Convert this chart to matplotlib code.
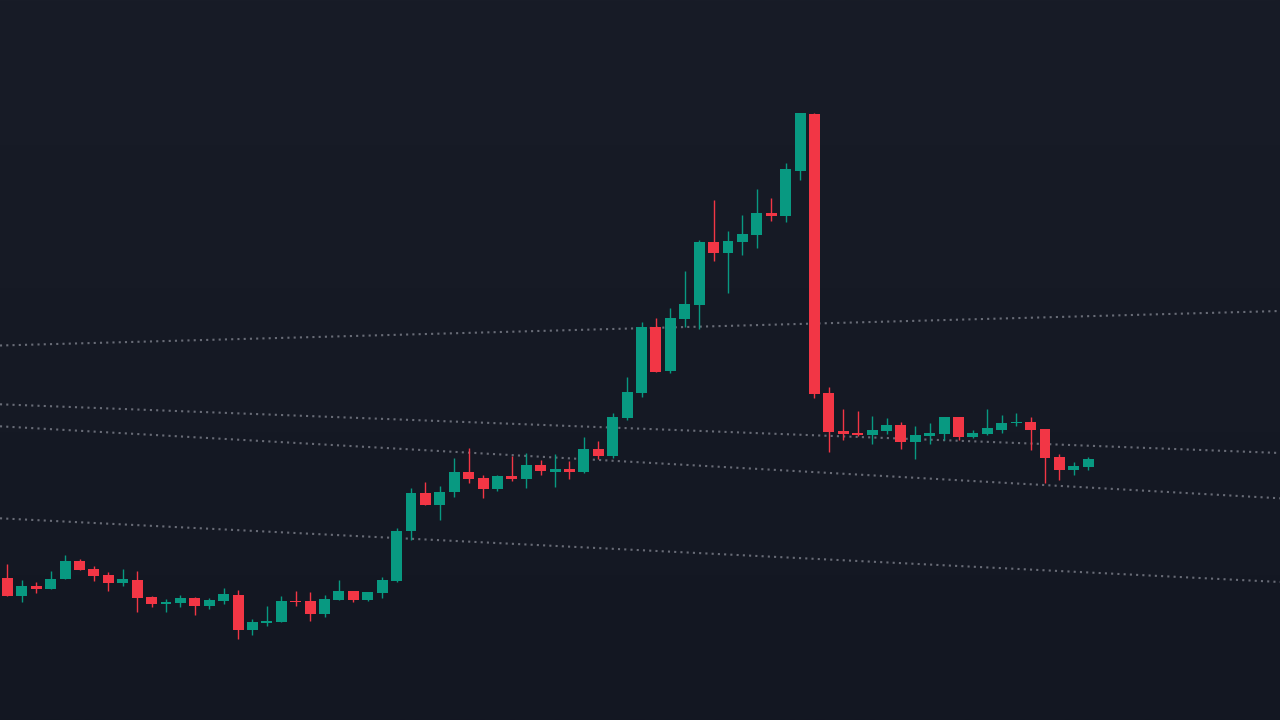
import numpy as np
import matplotlib
matplotlib.use("Agg")
import matplotlib.pyplot as plt
from matplotlib.patches import Rectangle
from matplotlib.colors import LinearSegmentedColormap

# ---- data (price units) ----
opens  = [142,124,134,131,141,159,151,145,137,140,123,116,117,122,114,119,125,90,97,98,
          119,119,106,120,129,120,127,139,189,227,215,228,248,242,231,244,241,255,248,251,
          248,271,264,302,327,393,349,401,415,478,467,478,485,507,504,549,606,327,289,287,
          285,289,295,278,284,286,303,283,286,290,297,298,291,263,250,253]
highs  = [156,140,138,149,165,161,154,148,151,149,124,121,125,123,122,132,130,101,114,124,
          129,128,125,140,129,128,143,192,232,238,234,262,272,245,245,264,267,260,266,259,
          283,279,307,343,398,402,412,449,480,520,489,505,531,522,557,607,607,333,311,309,
          304,302,298,294,297,303,303,290,311,305,307,303,291,266,258,263]
lows   = [124,118,127,131,141,150,139,129,134,108,113,108,113,105,111,116,81,85,94,98,
          114,99,103,120,118,119,122,138,180,215,200,223,237,222,229,239,232,245,233,241,
          247,261,262,300,323,348,347,393,391,459,427,465,472,499,498,540,322,268,280,284,
          276,286,271,261,276,280,280,282,285,287,294,270,237,240,245,250]
closes = [124,134,131,141,159,150,144,137,141,122,116,118,122,114,120,126,90,98,99,119,
          118,106,121,129,120,128,140,189,227,215,228,248,241,231,244,241,255,249,251,248,
          271,264,303,328,393,348,402,416,478,467,479,486,507,504,551,607,326,288,286,285,
          290,295,278,285,287,303,283,287,292,297,298,290,262,250,254,261]

# trend lines: price at left edge and right edge of the view
trend_start = [374.5, 315.7, 293.7, 201.7]
trend_end   = [409.0, 267.0, 221.7, 138.0]

UP = "#089981"
DOWN = "#F23645"
LINE = "#787b86"

fig = plt.figure(figsize=(12.8, 7.2), dpi=100)

# background gradient
bg = fig.add_axes([0, 0, 1, 1])
bg.axis("off")
cmap = LinearSegmentedColormap.from_list("bg", ["#181c27", "#131722"])
bg.imshow(np.linspace(0, 1, 256).reshape(-1, 1), aspect="auto", cmap=cmap,
          extent=[0, 1, 0, 1])
bg.set_xlim(0, 1); bg.set_ylim(0, 1)

ax = fig.add_axes([0, 0, 1, 1])
ax.patch.set_alpha(0)
ax.axis("off")

step = 14.41
x0 = -7.5 / step
x1 = (1280 - 7.5) / step
ax.set_xlim(x0, x1)
ax.set_ylim(0, 720)

for s, e in zip(trend_start, trend_end):
    ax.plot([x0, x1], [s, e], color=LINE, lw=1.5, linestyle=(0, (1, 2)),
            alpha=0.85, zorder=1, solid_capstyle="butt", dash_capstyle="butt")

w = 0.76
for i, (o, h, l, c) in enumerate(zip(opens, highs, lows, closes)):
    col = UP if c >= o else DOWN
    ax.plot([i, i], [l, h], color=col, lw=1.0, zorder=2, solid_capstyle="butt")
    lo, hi = min(o, c), max(o, c)
    ax.add_patch(Rectangle((i - w / 2, lo), w, max(hi - lo, 1.2),
                           facecolor=col, edgecolor="none", zorder=3))

fig.savefig("out.png", dpi=100)
